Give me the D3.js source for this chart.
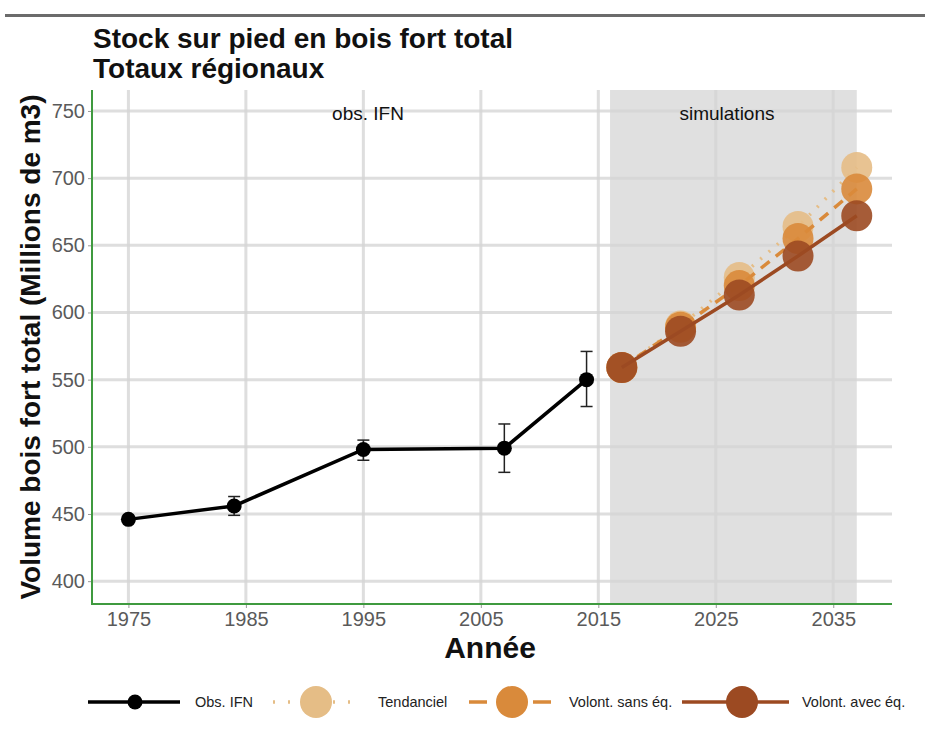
<!DOCTYPE html>
<html>
<head>
<meta charset="utf-8">
<script src="https://cdn.jsdelivr.net/npm/d3@7"></script>
<style>
  body { margin: 0; background: #fff; }
  text { font-family: "Liberation Sans", Arial, sans-serif; }
</style>
</head>
<body>
<div id="chart-area"></div>
<script>
// observed values (IFN)
var obsYears = [1975, 1984, 1995, 2007, 2014]
var obsValues = [446, 456, 498, 499, 550]
var obsLow = [446, 449, 490, 481, 530]
var obsHigh = [446, 463, 505, 517, 571]

// simulations
var simYears = [2017, 2022, 2027, 2032, 2037]
var tendanciel = [559, 590, 626, 664, 708]
var volontSans = [559, 589, 620, 655, 692]
var volontAvec = [559, 586, 613, 642, 672]

var xTicks = [1975, 1985, 1995, 2005, 2015, 2025, 2035]
var yTicks = [400, 450, 500, 550, 600, 650, 700, 750]

var width = 925
var height = 733
var plot = {left: 92, right: 892, top: 90, bottom: 604}

var svg = d3.select("#chart-area")
  .append("svg")
  .attr("width", width)
  .attr("height", height)

var x = d3.scaleLinear().domain([1971.9, 2040]).range([plot.left, plot.right])
var y = d3.scaleLinear().domain([383, 765.6]).range([plot.bottom, plot.top])

// top rule
svg.append("rect").attr("x", 5).attr("y", 14).attr("width", 920).attr("height", 3).attr("fill", "#6b6b6b")

// titles
svg.append("text").attr("x", 93).attr("y", 48)
  .attr("font-size", "28px").attr("font-weight", "bold").attr("fill", "#111")
  .text("Stock sur pied en bois fort total")
svg.append("text").attr("x", 93).attr("y", 78)
  .attr("font-size", "28px").attr("font-weight", "bold").attr("fill", "#111")
  .text("Totaux régionaux")

// simulation zone
svg.append("rect")
  .attr("x", x(2016)).attr("y", plot.top)
  .attr("width", x(2037) - x(2016)).attr("height", plot.bottom - plot.top)
  .attr("fill", "#e0e0e0")

// grid
var g = svg.append("g")
g.selectAll(".hgrid").data(yTicks).enter().append("line")
  .attr("x1", plot.left).attr("x2", plot.right)
  .attr("y1", d => y(d)).attr("y2", d => y(d))
  .attr("stroke", "#d6d6d6").attr("stroke-width", 3).attr("opacity", 0.8)
g.selectAll(".vgrid").data(xTicks).enter().append("line")
  .attr("y1", plot.top).attr("y2", plot.bottom)
  .attr("x1", d => x(d)).attr("x2", d => x(d))
  .attr("stroke", "#d6d6d6").attr("stroke-width", 3).attr("opacity", 0.8)

// zone labels
svg.append("text").attr("x", 368).attr("y", 120)
  .attr("text-anchor", "middle").attr("font-size", "19px").attr("fill", "#111")
  .text("obs. IFN")
svg.append("text").attr("x", 727).attr("y", 120)
  .attr("text-anchor", "middle").attr("font-size", "19px").attr("fill", "#111")
  .text("simulations")

// axes
var leftAxis = d3.axisLeft(y).tickValues(yTicks).tickSize(4).tickPadding(3)
var bottomAxis = d3.axisBottom(x).tickValues(xTicks).tickFormat(d3.format("d")).tickSize(4).tickPadding(4)

var ya = svg.append("g").attr("class", "left axis")
  .attr("transform", `translate(${plot.left}, 0)`).call(leftAxis)
var xa = svg.append("g").attr("class", "bottom axis")
  .attr("transform", `translate(0, ${plot.bottom})`).call(bottomAxis)
ya.select(".domain").remove()
xa.select(".domain").remove()
svg.selectAll(".axis text").attr("font-size", "20px").attr("fill", "#5a5a5a")
  .attr("font-family", "Liberation Sans, Arial, sans-serif")
svg.selectAll(".axis .tick line").attr("stroke", "#999")

svg.append("line").attr("x1", plot.left).attr("x2", plot.left)
  .attr("y1", plot.top).attr("y2", plot.bottom + 1)
  .attr("stroke", "#3f9a3f").attr("stroke-width", 2)
svg.append("line").attr("x1", plot.left - 1).attr("x2", plot.right)
  .attr("y1", plot.bottom).attr("y2", plot.bottom)
  .attr("stroke", "#3f9a3f").attr("stroke-width", 2)

svg.append("text")
  .attr("transform", `translate(40, ${(plot.top + plot.bottom) / 2}) rotate(-90)`)
  .attr("text-anchor", "middle").attr("font-size", "28px").attr("font-weight", "bold")
  .attr("fill", "#111")
  .text("Volume bois fort total (Millions de m3)")
svg.append("text").attr("x", 490).attr("y", 658)
  .attr("text-anchor", "middle").attr("font-size", "30px").attr("font-weight", "bold")
  .attr("fill", "#111")
  .text("Année")

// simulation series
var series = [
  {name: "Tendanciel", values: tendanciel, color: "#e5bd86", dash: "2,9"},
  {name: "Volont. sans éq.", values: volontSans, color: "#d98a3b", dash: "11,8"},
  {name: "Volont. avec éq.", values: volontAvec, color: "#9c4a22", dash: null}
]

var line = d3.line().x(d => x(d[0])).y(d => y(d[1]))

series.forEach(function(s) {
  var pts = simYears.map((yr, i) => [yr, s.values[i]])
  svg.append("path").datum(pts)
    .attr("d", line).attr("fill", "none")
    .attr("stroke", s.color).attr("stroke-width", 3.5)
    .attr("stroke-dasharray", s.dash)
  svg.selectAll(null).data(pts).enter().append("circle")
    .attr("cx", d => x(d[0])).attr("cy", d => y(d[1]))
    .attr("r", 15.5).attr("fill", s.color).attr("opacity", 0.9)
})

// observed series
var obs = obsYears.map((yr, i) => ({x: yr, y: obsValues[i], lo: obsLow[i], hi: obsHigh[i]}))
var eb = svg.append("g").attr("stroke", "#222").attr("stroke-width", 1.5)
obs.forEach(function(d) {
  if (d.hi === d.lo) return
  eb.append("line").attr("x1", x(d.x)).attr("x2", x(d.x)).attr("y1", y(d.lo)).attr("y2", y(d.hi))
  eb.append("line").attr("x1", x(d.x) - 6).attr("x2", x(d.x) + 6).attr("y1", y(d.lo)).attr("y2", y(d.lo))
  eb.append("line").attr("x1", x(d.x) - 6).attr("x2", x(d.x) + 6).attr("y1", y(d.hi)).attr("y2", y(d.hi))
})
svg.append("path").datum(obs)
  .attr("d", d3.line().x(d => x(d.x)).y(d => y(d.y)))
  .attr("fill", "none").attr("stroke", "#000").attr("stroke-width", 3.5)
svg.selectAll(".obs").data(obs).enter().append("circle")
  .attr("cx", d => x(d.x)).attr("cy", d => y(d.y)).attr("r", 7.5).attr("fill", "#000")

// legend
var legend = [
  {label: "Obs. IFN", color: "#000", dash: null, r: 7.5, x1: 88, x2: 180, cx: 135, tx: 195},
  {label: "Tendanciel", color: "#e5bd86", dash: "2,13", r: 16, x1: 273, x2: 352, cx: 316, tx: 378},
  {label: "Volont. sans éq.", color: "#d98a3b", dash: "18,14", r: 16, x1: 469, x2: 556, cx: 512, tx: 569},
  {label: "Volont. avec éq.", color: "#9c4a22", dash: null, r: 16, x1: 682, x2: 789, cx: 742, tx: 802}
]
var lg = svg.append("g")
legend.forEach(function(l) {
  lg.append("line").attr("x1", l.x1).attr("x2", l.x2).attr("y1", 702).attr("y2", 702)
    .attr("stroke", l.color).attr("stroke-width", 3.5).attr("stroke-dasharray", l.dash)
  lg.append("circle").attr("cx", l.cx).attr("cy", 702).attr("r", l.r).attr("fill", l.color)
  lg.append("text").attr("x", l.tx).attr("y", 707).attr("font-size", "14.5px").attr("fill", "#222")
    .text(l.label)
})
</script>
</body>
</html>
